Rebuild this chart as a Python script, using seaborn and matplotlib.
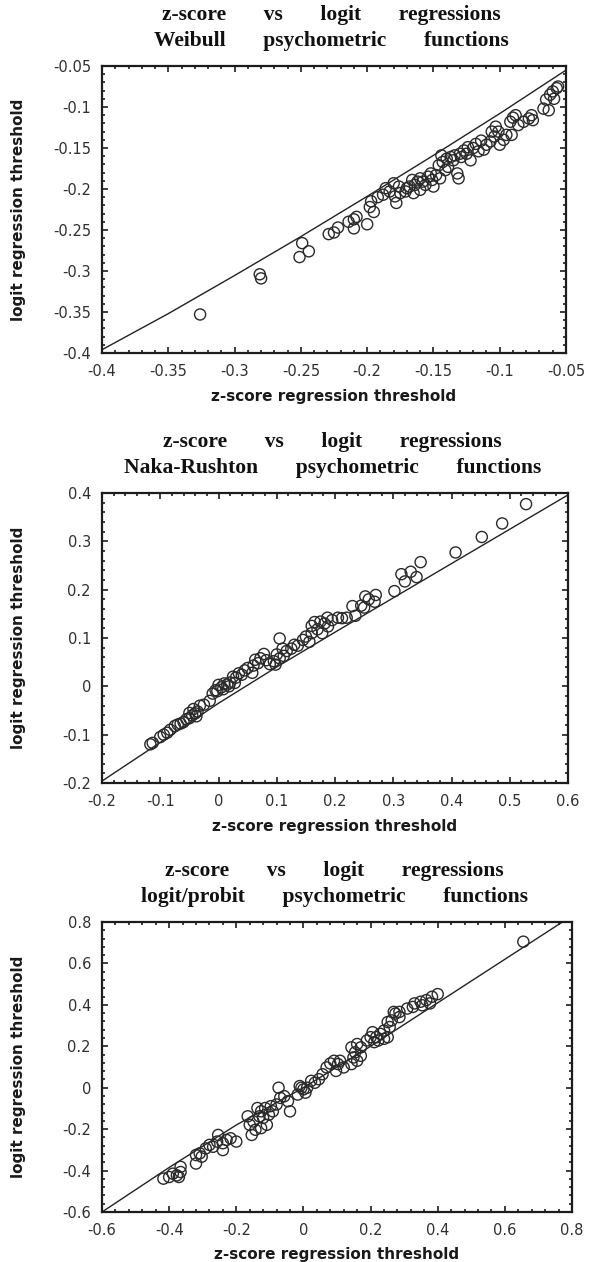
import matplotlib
matplotlib.use("Agg")
import matplotlib.pyplot as plt
import seaborn as sns
from matplotlib.ticker import MultipleLocator, FuncFormatter

# ---- Weibull psychometric functions ----
weibull_z = [-0.326, -0.281, -0.280, -0.251, -0.249, -0.244, -0.229, -0.225, -0.222, -0.214,
             -0.210, -0.208, -0.210, -0.200, -0.197, -0.198, -0.195, -0.192, -0.188, -0.186,
             -0.183, -0.180, -0.179, -0.178, -0.176, -0.175, -0.171, -0.170, -0.168, -0.166,
             -0.165, -0.164, -0.162, -0.160, -0.160, -0.158, -0.156, -0.154, -0.152, -0.151,
             -0.150, -0.148, -0.146, -0.145, -0.144, -0.143, -0.141, -0.140, -0.139, -0.137,
             -0.135, -0.134, -0.132, -0.131, -0.130, -0.129, -0.127, -0.125, -0.124, -0.122,
             -0.120, -0.118, -0.116, -0.114, -0.112, -0.110, -0.107, -0.106, -0.104, -0.103,
             -0.101, -0.100, -0.097, -0.095, -0.092, -0.091, -0.090, -0.088, -0.086, -0.082,
             -0.078, -0.076, -0.075, -0.067, -0.065, -0.063, -0.062, -0.060, -0.059, -0.057,
             -0.056]
weibull_logit = [-0.353, -0.304, -0.309, -0.283, -0.266, -0.276, -0.255, -0.253, -0.247, -0.240,
                 -0.237, -0.234, -0.248, -0.243, -0.215, -0.222, -0.228, -0.210, -0.207, -0.199,
                 -0.203, -0.193, -0.209, -0.217, -0.197, -0.205, -0.203, -0.199, -0.197, -0.189,
                 -0.205, -0.195, -0.191, -0.201, -0.187, -0.191, -0.195, -0.185, -0.181, -0.189,
                 -0.197, -0.183, -0.171, -0.187, -0.159, -0.167, -0.177, -0.163, -0.173, -0.161,
                 -0.165, -0.159, -0.181, -0.187, -0.157, -0.161, -0.153, -0.157, -0.149, -0.165,
                 -0.150, -0.145, -0.154, -0.141, -0.152, -0.146, -0.142, -0.130, -0.136, -0.124,
                 -0.130, -0.146, -0.140, -0.134, -0.118, -0.134, -0.113, -0.110, -0.122, -0.118,
                 -0.114, -0.110, -0.116, -0.102, -0.091, -0.104, -0.085, -0.081, -0.090, -0.077,
                 -0.075]
weibull_curve_z = [-0.40, -0.35, -0.30, -0.25, -0.20, -0.15, -0.10, -0.05]
weibull_curve_logit = [-0.396, -0.352, -0.3055, -0.258, -0.209, -0.159, -0.108, -0.055]

# ---- Naka-Rushton psychometric functions ----
naka_z = [0.528, 0.487, 0.452, 0.407, 0.347, 0.314, 0.330, 0.320, 0.340, 0.302,
          0.270, 0.268, 0.252, 0.258, 0.245, 0.230, 0.235, 0.220, 0.212, 0.250,
          0.187, 0.182, 0.175, 0.165, 0.160, 0.170, 0.188, 0.178, 0.160, 0.150,
          0.156, 0.145, 0.195, 0.205, 0.105, 0.125, 0.117, 0.112, 0.105, 0.100,
          0.095, 0.088, 0.082, 0.078, 0.072, 0.068, 0.098, 0.110, 0.130, 0.136,
          0.058, 0.050, 0.045, 0.040, 0.035, 0.030, 0.025, 0.020, 0.015, 0.010,
          0.005, 0.000, -0.002, -0.010, -0.005, 0.008, 0.018, 0.028, -0.015, -0.025,
          -0.032, -0.036, -0.040, -0.045, -0.050, -0.055, -0.060, -0.065, -0.070, -0.075,
          -0.083, -0.088, -0.094, -0.100, -0.113, -0.117, -0.043, -0.050, -0.038, 0.060,
          0.063]
naka_logit = [0.377, 0.337, 0.309, 0.277, 0.257, 0.232, 0.237, 0.217, 0.226, 0.197,
              0.189, 0.175, 0.186, 0.180, 0.167, 0.166, 0.146, 0.142, 0.141, 0.163,
              0.142, 0.130, 0.134, 0.133, 0.125, 0.118, 0.124, 0.110, 0.110, 0.103,
              0.092, 0.096, 0.137, 0.142, 0.099, 0.078, 0.073, 0.063, 0.058, 0.066,
              0.052, 0.046, 0.054, 0.067, 0.058, 0.048, 0.045, 0.078, 0.086, 0.084,
              0.028, 0.038, 0.033, 0.024, 0.027, 0.018, 0.020, 0.008, 0.004, 0.006,
              -0.002, 0.003, -0.010, -0.015, -0.008, -0.006, 0.000, 0.007, -0.030, -0.038,
              -0.040, -0.052, -0.056, -0.060, -0.066, -0.068, -0.074, -0.077, -0.079, -0.082,
              -0.090, -0.096, -0.100, -0.105, -0.117, -0.120, -0.047, -0.055, -0.062, 0.043,
              0.055]
naka_curve_z = [-0.2, -0.1, 0.0, 0.1, 0.2, 0.3, 0.4, 0.5, 0.6]
naka_curve_logit = [-0.196, -0.116, -0.035, 0.040, 0.112, 0.183, 0.254, 0.325, 0.396]

# ---- logit/probit psychometric functions ----
probit_z = [0.655, 0.400, 0.383, 0.366, 0.349, 0.331, 0.326, 0.377, 0.354, 0.309,
            0.286, 0.274, 0.286, 0.263, 0.269, 0.251, 0.257, 0.240, 0.251, 0.229,
            0.217, 0.206, 0.200, 0.211, 0.223, 0.240, 0.189, 0.171, 0.160, 0.154,
            0.171, 0.149, 0.160, 0.143, 0.143, 0.103, 0.091, 0.080, 0.069, 0.109,
            0.120, 0.097, 0.057, 0.046, 0.034, 0.023, 0.000, -0.006, 0.006, -0.011,
            0.011, -0.017, -0.074, -0.046, -0.057, -0.040, -0.069, -0.080, -0.091, -0.097,
            -0.103, -0.114, -0.126, -0.131, -0.137, -0.120, -0.109, -0.126, -0.143, -0.154,
            -0.160, -0.166, -0.149, -0.200, -0.229, -0.240, -0.254, -0.240, -0.257, -0.269,
            -0.280, -0.291, -0.309, -0.320, -0.320, -0.303, -0.217, -0.366, -0.377, -0.389,
            -0.400, -0.417, -0.366, -0.371]
probit_logit = [0.705, 0.452, 0.439, 0.423, 0.415, 0.407, 0.390, 0.407, 0.398, 0.382,
                0.366, 0.358, 0.341, 0.325, 0.366, 0.317, 0.293, 0.276, 0.244, 0.260,
                0.244, 0.268, 0.244, 0.220, 0.228, 0.236, 0.228, 0.195, 0.211, 0.171,
                0.154, 0.146, 0.130, 0.195, 0.114, 0.114, 0.130, 0.117, 0.098, 0.130,
                0.098, 0.081, 0.065, 0.041, 0.024, 0.033, -0.008, 0.000, -0.024, 0.008,
                0.000, -0.033, 0.000, -0.065, -0.041, -0.114, -0.049, -0.081, -0.114, -0.089,
                -0.130, -0.098, -0.114, -0.138, -0.098, -0.146, -0.179, -0.195, -0.203, -0.228,
                -0.179, -0.138, -0.163, -0.260, -0.252, -0.268, -0.228, -0.301, -0.260, -0.285,
                -0.276, -0.293, -0.317, -0.325, -0.366, -0.333, -0.244, -0.407, -0.423, -0.415,
                -0.431, -0.439, -0.382, -0.431]
probit_curve_z = [-0.6, -0.4, -0.2, 0.0, 0.2, 0.4, 0.6, 0.8]
probit_curve_logit = [-0.600, -0.385, -0.180, 0.000, 0.200, 0.410, 0.620, 0.830]

# ---- text ----
title_top_words = ["z-score", "vs", "logit", "regressions"]
title_bottom_words = [
    ["Weibull", "psychometric", "functions"],
    ["Naka-Rushton", "psychometric", "functions"],
    ["logit/probit", "psychometric", "functions"],
]
x_label = "z-score regression threshold"
y_label = "logit regression threshold"

# axis ranges and major/minor tick steps
limits = [(-0.4, -0.05), (-0.2, 0.6), (-0.6, 0.8)]
y_limits = [(-0.4, -0.05), (-0.2, 0.4), (-0.6, 0.8)]
x_steps = [(0.05, 0.01), (0.1, 0.02), (0.2, 0.04)]
y_steps = [(0.05, 0.01), (0.1, 0.02), (0.2, 0.04)]

panels = [
    (weibull_z, weibull_logit, weibull_curve_z, weibull_curve_logit),
    (naka_z, naka_logit, naka_curve_z, naka_curve_logit),
    (probit_z, probit_logit, probit_curve_z, probit_curve_logit),
]

sns.set_theme(style="ticks")
plt.rcParams.update({
    "font.family": ["DejaVu Sans"],
    "axes.unicode_minus": False,
    "axes.linewidth": 1.5,
    "axes.edgecolor": "#1c1c1c",
    "xtick.color": "#1c1c1c",
    "ytick.color": "#1c1c1c",
})

W, H = 596, 1262
fig = plt.figure(figsize=(W / 100, H / 100), dpi=100)
fig.patch.set_facecolor("white")

# axes boxes in pixels: (left, top, right, bottom)
boxes = [(102, 66, 566, 353), (102, 493, 568, 783), (102, 922, 572, 1212)]


def fmt(v, _pos):
    v = round(v, 3)
    if abs(v) < 1e-9:
        return "0"
    return f"{v:g}"


gap = " " * 7
for i, (zs, ls, cz, cl) in enumerate(panels):
    left, top, right, bottom = boxes[i]
    w_px, h_px = right - left, bottom - top
    ax = fig.add_axes([left / W, 1 - bottom / H, w_px / W, h_px / H])
    ax.set_facecolor("white")

    sns.lineplot(x=cz, y=cl, ax=ax, color="#222222", linewidth=1.0,
                 sort=False, estimator=None, zorder=2)
    sns.scatterplot(x=zs, y=ls, ax=ax, marker="o", s=64, facecolors="none",
                    edgecolor="#2a2a2a", linewidth=1.0, zorder=3, legend=False)
    ax.collections[-1].set_facecolor("none")

    ax.set_xlim(*limits[i])
    ax.set_ylim(*y_limits[i])
    ax.xaxis.set_major_locator(MultipleLocator(x_steps[i][0]))
    ax.xaxis.set_minor_locator(MultipleLocator(x_steps[i][1]))
    ax.yaxis.set_major_locator(MultipleLocator(y_steps[i][0]))
    ax.yaxis.set_minor_locator(MultipleLocator(y_steps[i][1]))
    ax.xaxis.set_major_formatter(FuncFormatter(fmt))
    ax.yaxis.set_major_formatter(FuncFormatter(fmt))

    ax.tick_params(which="both", direction="in", top=True, right=True,
                   width=1.2, labelsize=10.5, labelcolor="#303030", pad=8)
    ax.tick_params(which="major", length=4.5)
    ax.tick_params(which="minor", length=2.5)
    for sp in ax.spines.values():
        sp.set_visible(True)
        sp.set_linewidth(1.6)

    ax.set_xlabel(x_label, fontsize=11, fontweight="bold", color="#1a1a1a")
    ax.set_ylabel(y_label, fontsize=11, fontweight="bold", color="#1a1a1a")
    ax.xaxis.set_label_coords(0.5, -43 / h_px)
    ax.xaxis.label.set_va("center")
    ax.yaxis.set_label_coords(-83 / w_px, 0.5)
    ax.yaxis.label.set_va("center")

    title_kw = dict(transform=ax.transAxes, ha="center", va="center",
                    family=["Liberation Serif", "DejaVu Serif"], fontweight="bold",
                    fontsize=15.5, color="#111111")
    ax.text(0.495, 1 + 51 / h_px, gap.join(title_top_words), **title_kw)
    ax.text(0.495, 1 + 25 / h_px, gap.join(title_bottom_words[i]), **title_kw)

fig.savefig("out.png", dpi=100, facecolor="white")
